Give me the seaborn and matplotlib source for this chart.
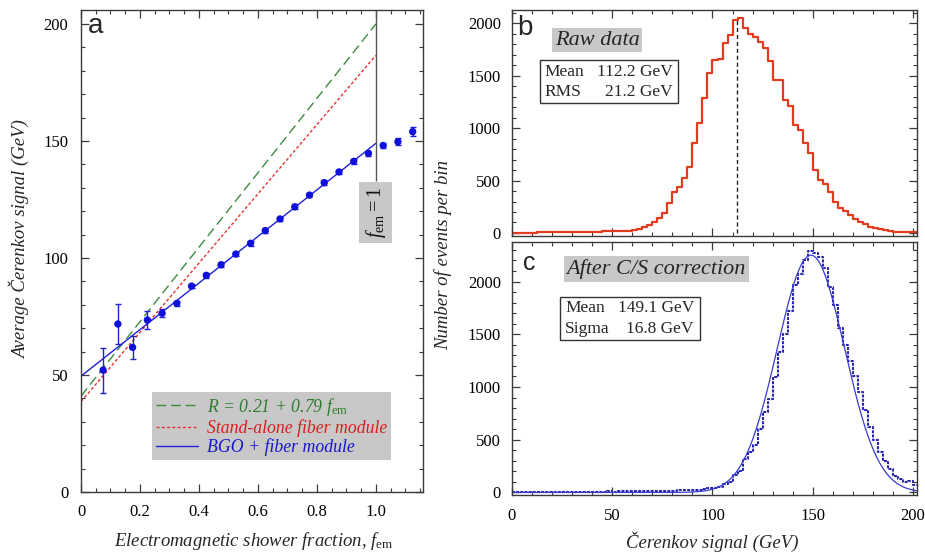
import numpy as np
import pandas as pd
import matplotlib
matplotlib.use("Agg")
import matplotlib.pyplot as plt
import seaborn as sns
from matplotlib.ticker import MultipleLocator
from matplotlib.patches import Rectangle
from matplotlib.lines import Line2D

# ---------------- data: panel a ----------------
f_em = [0.075, 0.125, 0.175, 0.225, 0.275, 0.325, 0.375, 0.425, 0.475, 0.525, 0.575,
        0.625, 0.675, 0.725, 0.775, 0.825, 0.875, 0.925, 0.975, 1.025, 1.075, 1.125]
cer_signal = [52.1, 71.8, 61.8, 73.5, 76.4, 80.6, 88.0, 92.6, 97.1, 101.7, 106.3,
              111.7, 116.7, 121.9, 126.9, 132.2, 136.8, 141.3, 144.7, 148.1, 149.7, 154.0]
cer_err = [9.6, 8.7, 4.9, 3.9, 1.8, 1.0, 1.0, 1.0, 1.0, 1.0, 1.0,
           1.0, 1.0, 1.0, 1.0, 1.0, 1.0, 1.0, 1.0, 1.2, 1.5, 2.0]

line_labels = [r"R = 0.21 + 0.79 $f_{\mathrm{em}}$", "Stand-alone fiber module", "BGO + fiber module"]
line_intercepts = [41.0, 38.6, 49.5]
line_slopes = [159.0, 148.0, 99.5]
line_range = [0.0, 1.0]

# ---------------- data: panels b, c ----------------
bin_width = 2.5
raw_counts = [2, 3, 3, 4, 4, 5, 5, 6, 6, 7, 7, 8, 9, 9, 10, 11, 12, 13, 14, 15,
              16, 17, 19, 22, 28, 42, 58, 76, 105, 140, 187, 283, 394, 442, 521, 633,
              855, 1046, 1290, 1530, 1650, 1660, 1808, 1885, 2030, 2047, 1955, 1900,
              1871, 1824, 1760, 1640, 1459, 1455, 1270, 1215, 1030, 982, 855, 760,
              605, 505, 465, 395, 300, 235, 213, 172, 135, 108, 86, 60, 48, 36, 28,
              22, 12, 6, 6, 12, 10, 8]
corr_counts = [3, 3, 4, 3, 4, 3, 4, 4, 5, 4, 5, 5, 6, 5, 6, 6,
               8, 9, 8, 10, 9, 11, 10, 12, 11, 13, 12, 14, 13, 15, 14, 16,
               18, 20, 22, 24, 26, 25, 30, 38,
               41, 50, 82, 100, 161, 200, 320, 380, 446, 604, 760, 889, 1094, 1331,
               1500, 1720, 1964, 2075, 2200, 2290, 2270, 2233, 2130, 1950, 1780, 1560,
               1400, 1250, 1100, 950, 780, 620, 500, 380, 300, 220, 160, 130, 100, 110,
               70, 50]
raw_mean, raw_rms = 112.2, 21.2
corr_mean, corr_sigma, fit_amplitude = 149.1, 16.8, 2250

# ---------------- style ----------------
sns.set_style("ticks")
plt.rcParams["font.family"] = ["Liberation Serif", "DejaVu Serif"]
plt.rcParams["mathtext.fontset"] = "custom"
plt.rcParams["mathtext.rm"] = "Liberation Serif"
plt.rcParams["mathtext.it"] = "Liberation Serif:italic"
plt.rcParams["axes.edgecolor"] = "#3a3a3a"
plt.rcParams["axes.linewidth"] = 1.0

W, H = 925, 553
fig = plt.figure(figsize=(W / 100, H / 100), dpi=100)

def box(l, t, r, b):
    return [l / W, 1 - b / H, (r - l) / W, (b - t) / H]

axa = fig.add_axes(box(81, 10, 423, 492))
axb = fig.add_axes(box(512, 10, 917, 236))
axc = fig.add_axes(box(512, 242, 917, 495))

tick_font = 12
label_font = 13.5
for ax in (axa, axb, axc):
    ax.tick_params(which="both", direction="in", top=True, right=True, colors="#3a3a3a",
                   labelcolor="black", labelsize=tick_font)
    ax.tick_params(which="major", length=6, width=0.9)
    ax.tick_params(which="minor", length=3, width=0.8)

# ---------------- panel a ----------------
line_colors = ["#3c8c3c", "#e83030", "#2020d8"]
line_styles = [(0, (7, 3.5)), (0, (2.2, 1.6)), "-"]
xs = np.array(line_range)
for lab, a0, a1, c, ls in zip(line_labels, line_intercepts, line_slopes, line_colors, line_styles):
    sns.lineplot(x=xs, y=a0 + a1 * xs, ax=axa, color=c, linestyle=ls, linewidth=1.0)

axa.errorbar(f_em, cer_signal, yerr=cer_err, fmt="none", ecolor="#2020d8",
             elinewidth=1.0, capsize=2.5, capthick=1.0)
sns.scatterplot(x=f_em, y=cer_signal, ax=axa, color="#1010dd", s=28, edgecolor="none", zorder=5)

axa.set_xlim(0, 1.16)
axa.set_ylim(0, 206)
axa.xaxis.set_minor_locator(MultipleLocator(0.05))
axa.yaxis.set_major_locator(MultipleLocator(50))
axa.yaxis.set_minor_locator(MultipleLocator(10))
axa.set_xticks([0, 0.2, 0.4, 0.6, 0.8, 1.0])
axa.set_xticklabels(["0", "0.2", "0.4", "0.6", "0.8", "1.0"])
axa.tick_params(axis="x", pad=9)
axa.tick_params(axis="y", pad=9)

# f_em = 1 marker line and label
axa.vlines(1.0, 133, 206, color="#555555", linewidth=1.0)
axa.text(1.0, 119.5, r"$f_{\mathrm{em}}=1$", rotation=90, ha="center", va="center",
         fontsize=14.5, color="#111111",
         bbox=dict(boxstyle="square,pad=0.22", fc="#c8c8c8", ec="none"))

axa.text(0.02, 0.952, "a", transform=axa.transAxes, fontsize=20,
         family="Liberation Sans", va="baseline", ha="left")

handles = [Line2D([], [], color=c, linestyle=ls, linewidth=1.0)
           for c, ls in zip(line_colors, line_styles)]
leg = axa.legend(handles, line_labels, loc="lower left", bbox_to_anchor=(0.207, 0.066),
                 borderaxespad=0, frameon=True, fancybox=False, framealpha=1,
                 facecolor="#c8c8c8", edgecolor="none", handlelength=2.4,
                 handletextpad=0.5, labelspacing=0.08, borderpad=0.22,
                 labelcolor=["#2e7d2e", "#d81e1e", "#1515d0"],
                 prop={"family": "Liberation Serif", "style": "italic", "size": 12.8})
leg.get_frame().set_linewidth(0)

fig.text(20 / W, 1 - 240 / H, "Average Čerenkov signal (GeV)", rotation=90,
         ha="center", va="center", fontsize=label_font, style="italic")
fig.text(254 / W, 1 - 541 / H, r"Electromagnetic shower fraction, $f_{\mathrm{em}}$",
         ha="center", va="center", fontsize=label_font, style="italic")

# ---------------- panels b and c ----------------
edges = [i * bin_width for i in range(len(raw_counts) + 1)]
centers = [e + bin_width / 2 for e in edges[:-1]]
raw_df = pd.DataFrame({"signal": centers, "count": raw_counts})
corr_df = pd.DataFrame({"signal": centers, "count": corr_counts})

sns.histplot(data=raw_df, x="signal", weights="count", bins=edges, element="step",
             fill=False, color="#e23c1e", linewidth=1.6, ax=axb)
axb.vlines(raw_mean, 0, max(raw_counts), color="#222222", linewidth=1.0,
           linestyles=(0, (3, 2)))

sns.histplot(data=corr_df, x="signal", weights="count", bins=edges, element="step",
             fill=False, color="#2626b0", linewidth=1.5, linestyle=(0, (1.4, 0.6)), ax=axc)
fit_x = np.linspace(0, 202, 500)
fit_y = fit_amplitude * np.exp(-0.5 * ((fit_x - corr_mean) / corr_sigma) ** 2)
sns.lineplot(x=fit_x, y=fit_y, ax=axc, color="#3a3ad0", linewidth=0.9)

for ax, top, bot in ((axb, 2127, -29), (axc, 2375, -24)):
    ax.set_xlim(0, 202)
    ax.set_ylim(bot, top)
    ax.xaxis.set_major_locator(MultipleLocator(50))
    ax.xaxis.set_minor_locator(MultipleLocator(10))
    ax.yaxis.set_major_locator(MultipleLocator(500))
    ax.yaxis.set_minor_locator(MultipleLocator(100))
    ax.set_xlabel("")
    ax.set_ylabel("")
    ax.tick_params(axis="y", pad=8)
axb.tick_params(axis="x", labelbottom=False)
axc.tick_params(axis="x", pad=9)

axb.text(0.012, 0.889, "b", transform=axb.transAxes, fontsize=20,
         family="Liberation Sans", va="baseline", ha="left")
axc.text(0.027, 0.889, "c", transform=axc.transAxes, fontsize=18,
         family="Liberation Sans", va="baseline", ha="left")

axb.text(0.21, 0.867, "Raw data", transform=axb.transAxes, ha="center", va="center",
         fontsize=16, style="italic",
         bbox=dict(boxstyle="square,pad=0.12", fc="#c8c8c8", ec="none"))
axc.text(0.356, 0.893, "After C/S correction", transform=axc.transAxes, ha="center",
         va="center", fontsize=16, style="italic",
         bbox=dict(boxstyle="square,pad=0.12", fc="#c8c8c8", ec="none"))

def stat_box(ax, x0, y0, x1, y1, rows, xl, xr, ys):
    ax.add_patch(Rectangle((x0, y0), x1 - x0, y1 - y0, transform=ax.transAxes,
                           fc="white", ec="#333333", lw=1.0, zorder=6))
    for (name, val), yy in zip(rows, ys):
        ax.text(xl, yy, name, transform=ax.transAxes, ha="left", va="center",
                fontsize=12.5, zorder=7)
        ax.text(xr, yy, val, transform=ax.transAxes, ha="right", va="center",
                fontsize=12.5, zorder=7)

stat_box(axb, 0.069, 0.588, 0.41, 0.779,
         [("Mean", f"{raw_mean:.1f} GeV"), ("RMS", f"{raw_rms:.1f} GeV")],
         0.081, 0.397, [0.726, 0.637])
stat_box(axc, 0.1185, 0.613, 0.464, 0.783,
         [("Mean", f"{corr_mean:.1f} GeV"), ("Sigma", f"{corr_sigma:.1f} GeV")],
         0.131, 0.449, [0.739, 0.656])

fig.text(443 / W, 1 - 255 / H, "Number of events per bin", rotation=90,
         ha="center", va="center", fontsize=label_font, style="italic")
fig.text(712 / W, 1 - 542 / H, "Čerenkov signal (GeV)", ha="center", va="center",
         fontsize=label_font, style="italic")

fig.savefig("out.png", dpi=100)
